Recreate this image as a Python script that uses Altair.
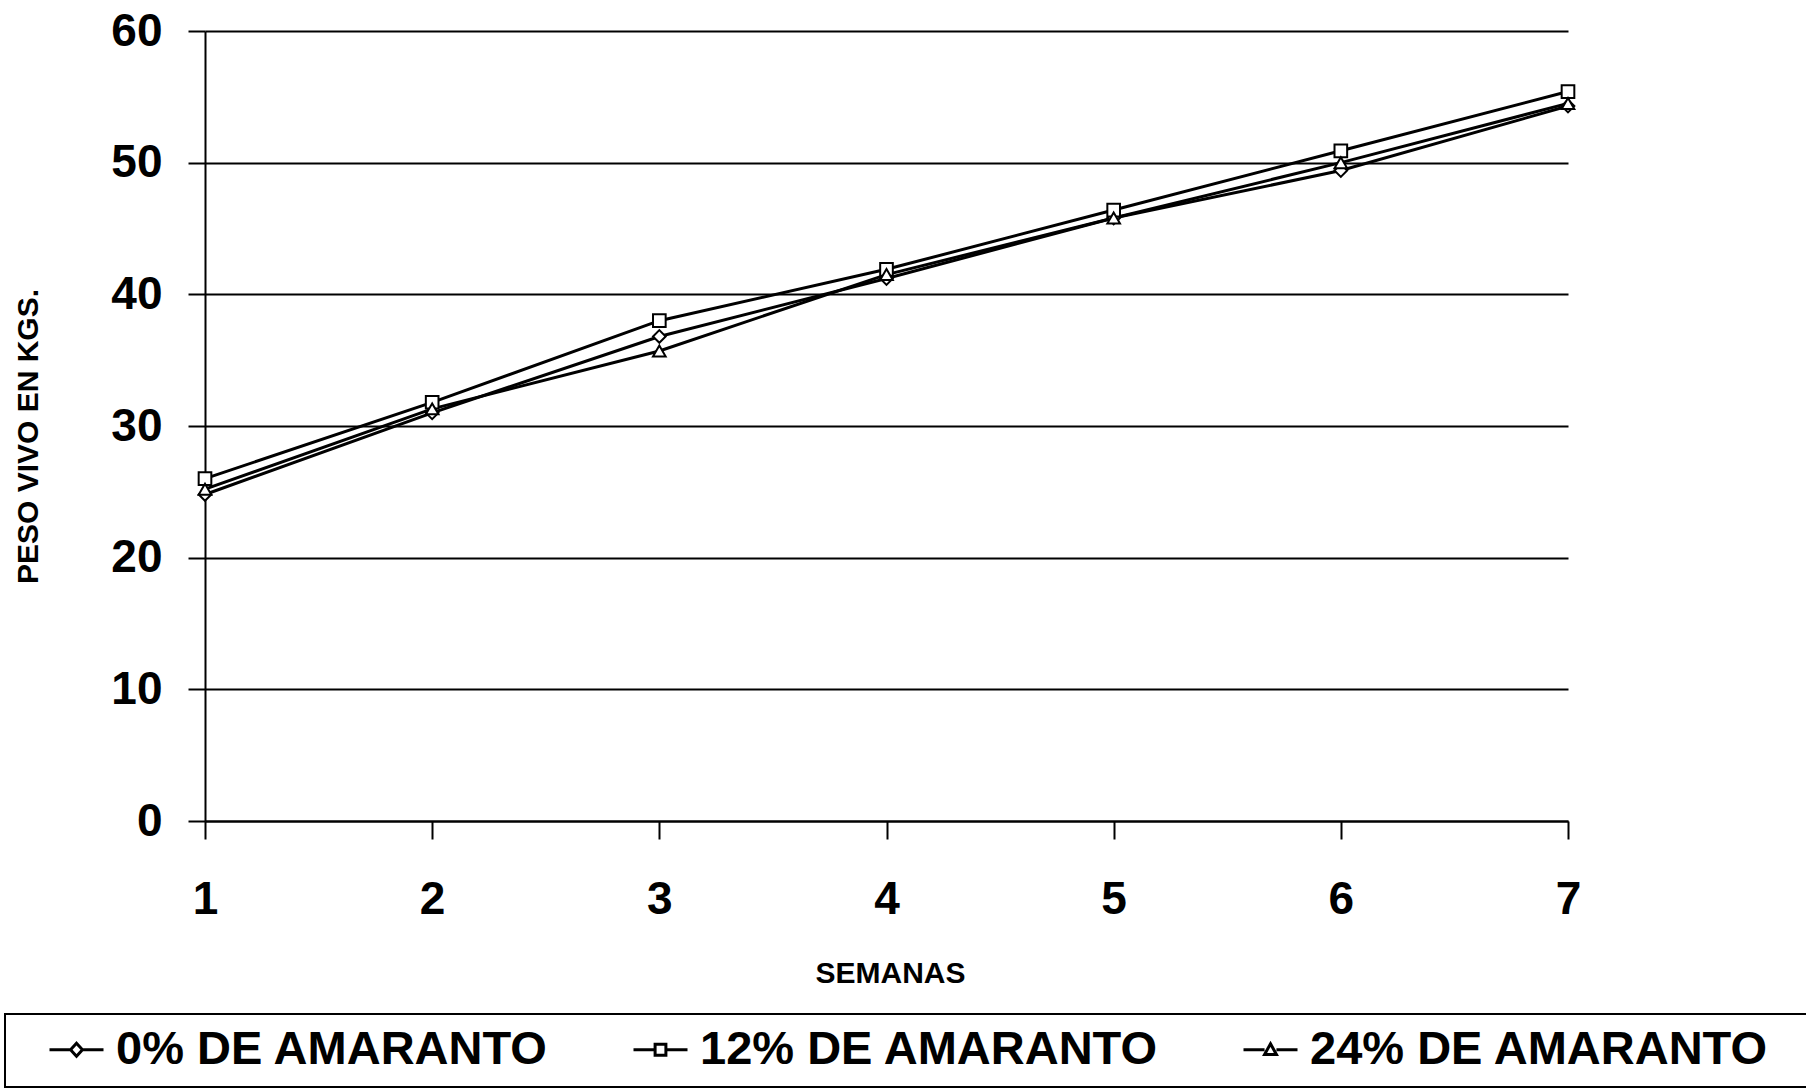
import altair as alt
import pandas as pd

# Weekly live weight (kg) of pigs fed three levels of amaranth
semanas = [1, 2, 3, 4, 5, 6, 7]
series = ["0% DE AMARANTO", "12% DE AMARANTO", "24% DE AMARANTO"]
peso_0 = [24.8, 31.0, 36.8, 41.2, 45.8, 49.4, 54.3]
peso_12 = [26.0, 31.8, 38.0, 41.9, 46.4, 50.9, 55.4]
peso_24 = [25.2, 31.3, 35.7, 41.5, 45.8, 50.0, 54.5]
y_ticks = [0, 10, 20, 30, 40, 50, 60]

rows = []
for name, vals in zip(series, [peso_0, peso_12, peso_24]):
    for s, v in zip(semanas, vals):
        rows.append({"semana": s, "serie": name, "peso": v})
df = pd.DataFrame(rows)

FONT = "Liberation Sans"

x_enc = alt.X(
    "semana:Q",
    scale=alt.Scale(domain=[1, 7], nice=False, zero=False),
    axis=alt.Axis(
        values=semanas, format="d", title="SEMANAS", grid=False,
        domainColor="black", domainWidth=2,
        tickColor="black", tickWidth=2, tickSize=18,
        labelFont=FONT, labelFontSize=46, labelFontWeight="bold", labelColor="black",
        labelPadding=38, labelFlush=False,
        titleFont=FONT, titleFontSize=30, titleFontWeight="bold", titleColor="black",
        titleBaseline="middle", titleX=685, titleY=152,
    ),
)
y_enc = alt.Y(
    "peso:Q",
    scale=alt.Scale(domain=[0, 60], nice=False),
    axis=alt.Axis(
        values=y_ticks, title="PESO VIVO EN KGS.", grid=True,
        gridColor="black", gridWidth=2, gridOpacity=1,
        domainColor="black", domainWidth=2,
        tickColor="black", tickWidth=2, tickSize=17,
        labelFont=FONT, labelFontSize=46, labelFontWeight="bold", labelColor="black",
        labelPadding=26,
        titleFont=FONT, titleFontSize=30, titleFontWeight="bold", titleColor="black",
        titleAngle=270, titleAlign="center", titleBaseline="middle",
        titleX=-177, titleY=405,
    ),
)

lines = alt.Chart(df).mark_line(color="black", strokeWidth=3).encode(
    x=x_enc, y=y_enc, detail="serie:N"
)

points = alt.Chart(df).mark_point(
    filled=True, fill="white", stroke="black", strokeWidth=2, size=160, opacity=1
).encode(
    x=x_enc,
    y=y_enc,
    shape=alt.Shape(
        "serie:N",
        scale=alt.Scale(domain=series, range=["diamond", "square", "triangle-up"]),
        legend=None,
    ),
)

# Legend symbols: a short line with the series marker in the middle
legend_paths = [
    "M-1,0H-0.22M0.22,0H1M0,-0.24L0.22,0L0,0.24L-0.22,0Z",
    "M-1,0H-0.2M0.2,0H1M-0.2,-0.2H0.2V0.2H-0.2Z",
    "M-1,0H-0.22M0.22,0H1M0,-0.22L0.22,0.18L-0.22,0.18Z",
]
legend_layer = alt.Chart(df).transform_filter("datum.semana < 0").mark_point(
    filled=False, color="black", strokeWidth=3, opacity=1
).encode(
    x=x_enc,
    y=y_enc,
    shape=alt.Shape(
        "serie:N",
        scale=alt.Scale(domain=series, range=legend_paths),
        legend=alt.Legend(
            title=None, orient="none", legendX=-157, legendY=990,
            direction="horizontal", padding=0,
            labelFont=FONT, labelFontSize=47, labelFontWeight="bold",
            labelColor="black", labelLimit=1000, labelOffset=11,
            columnPadding=78, symbolSize=2916, symbolStrokeWidth=3,
            symbolStrokeColor="black", symbolFillColor="white",
            symbolOpacity=1,
        ),
    ),
)

# Frame around the legend row
legend_box = alt.Chart(alt.Data(values=[{}])).mark_rect(
    fillOpacity=0, stroke="black", strokeWidth=2
).encode(
    x=alt.value(-200), x2=alt.value(1615), y=alt.value(983), y2=alt.value(1056)
)

chart = (
    alt.layer(lines, points, legend_layer, legend_box)
    .resolve_scale(shape="independent")
    .properties(
        width=1363,
        height=790,
        autosize=alt.AutoSizeParams(type="none"),
        padding={"left": 205, "top": 31, "right": 238, "bottom": 267},
        background="white",
    )
    .configure_view(stroke=None)
)

chart.save("out.html", embed_options={"renderer": "svg", "actions": False})
